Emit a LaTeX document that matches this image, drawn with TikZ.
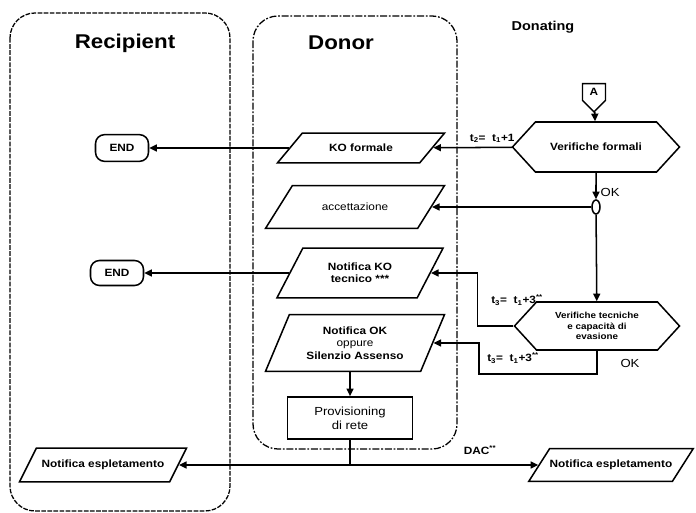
\documentclass[tikz,border=0pt]{standalone}
\usepackage{fontspec}
\setmainfont[FakeStretch=1.12]{Liberation Sans}
\usetikzlibrary{arrows.meta,positioning}
\usetikzlibrary{shapes.geometric,shapes.misc,shapes.symbols}
\tikzset{
    >={Triangle[length=6.5pt,width=6pt]}, % filled arrow heads
    lane/.style={draw, line width=1.1pt, rounded corners=0.75cm},
    title/.style={font=\fontsize{17}{19}\selectfont\bfseries},
    % parallelogram: angle of the sides, height comes from inner ysep
    io/.style={trapezium, trapezium left angle=#1, trapezium right angle=180-#1,
        trapezium stretches body,
        draw, line width=1.3pt, inner xsep=0pt, align=center,
        font=\fontsize{9}{10.5}\selectfont\bfseries},
    io/.default=60,
    hex/.style={signal, signal to=east and west, signal pointer angle=95,
        draw, line width=1.3pt, inner sep=0pt, align=center,
        font=\fontsize{9}{10.5}\selectfont\bfseries},
    offpage/.style={signal, signal to=south, signal from=nowhere, draw,
        line width=1.1pt, inner sep=0pt, minimum width=0.69cm, minimum height=0.63cm,
        font=\fontsize{9}{10}\selectfont\bfseries},
    junction/.style={ellipse, draw, line width=1.3pt, inner sep=0pt,
        minimum width=0.24cm, minimum height=0.42cm},
    terminal/.style={rectangle, rounded corners=0.27cm, draw, line width=1.3pt, inner sep=0pt,
        minimum width=1.59cm, minimum height=0.8cm,
        font=\fontsize{9}{10}\selectfont\bfseries},
    process/.style={rectangle, draw, line width=1.5pt, inner sep=0pt, align=center,
        minimum width=3.75cm, minimum height=1.26cm,
        font=\fontsize{10}{12}\selectfont},
    lbl/.style={font=\fontsize{9}{10}\selectfont\bfseries},
    every edge/.style={draw, line width=1.3pt},
}

\begin{document}
\begin{tikzpicture}[x=0.03cm, y=-0.03cm, line width=1.3pt]
  \useasboundingbox (0,0) rectangle (696,513);

  % swim lanes
  \draw[lane, dash pattern=on 4pt off 1.2pt] (10,13) rectangle (230,511);
  \draw[lane, dash pattern=on 6pt off 1.5pt on 1.5pt off 1.5pt] (253,16) rectangle (457,449);
  \node[title] (recipient) at (125,43) {Recipient};
  \node[title] (donor) at (341,43) {Donor};
  \node[font=\fontsize{11}{13}\selectfont\bfseries] (donating) at (543,27) {Donating};

  % Donating
  \node[offpage] (A) at (594,92) {A};
  \node[hex, minimum width=5.01cm, minimum height=1.5cm] (vf) at (596,147) {Verifiche formali};
  \node[junction] (ok) at (596,207) {};
  \node[hex, minimum width=4.95cm, minimum height=1.44cm,
      font=\fontsize{7.5}{9}\selectfont\bfseries] (vt) at (597,326)
      {Verifiche tecniche\\e capacità di\\evasione};

  % Donor
  \node[io=50.2, minimum width=5.01cm, inner ysep=9.4pt] (koform) at (361,148) {KO formale};
  \node[io=57.9, minimum width=5.37cm, inner ysep=15pt,
      font=\fontsize{9}{10.5}\selectfont] (acc) at (355,207) {accettazione};
  \node[io=62.5, minimum width=4.98cm, inner ysep=12.6pt] (kotec) at (360,273)
      {Notifica KO\\tecnico ***};
  \node[io=67.2, minimum width=5.37cm, inner ysep=10.4pt,
      font=\fontsize{9}{10.5}\selectfont] (nok) at (355,343)
      {\textbf{Notifica OK}\\oppure\\\textbf{Silenzio Assenso}};
  \node[process] (prov) at (350,418) {Provisioning\\di rete};

  % Recipient
  \node[terminal] (end1) at (122,148) {END};
  \node[terminal, minimum height=0.75cm] (end2) at (117,273) {END};
  \node[io=63.4, minimum width=5.01cm, inner ysep=10.2pt] (espR) at (103,465) {Notifica espletamento};
  \node[io=57.5, minimum width=4.74cm, inner ysep=9.8pt] (espD) at (611,465) {Notifica espletamento};
  \coordinate (dac) at (350,465);

  \path[->]
    (A) edge (vf)
    (vf) edge node[lbl, above, pos=.25] {t\textsubscript{2}= \ t\textsubscript{1}+1} (koform)
         edge node[right, pos=.75, font=\fontsize{10}{12}\selectfont] {OK} (ok)
    (koform) edge (end1)
    (ok) edge (acc)
         edge (vt)
    (kotec) edge (end2)
    (prov.north |- nok.south) edge (prov)
    (dac) edge (espR)
          edge (espD);
  \draw (prov) -- (dac);
  \draw[->] (vt.west) -- ++(-36,0) |- (kotec.east);
  \draw[->] (vt.south) |- ++(-118,23) |- (nok.east);

  \node[lbl] (t3a) at (517,300) {t\textsubscript{3}= \ t\textsubscript{1}+3\textsuperscript{**}};
  \node[lbl] (t3b) at (513,358) {t\textsubscript{3}= \ t\textsubscript{1}+3\textsuperscript{**}};
  \node[font=\fontsize{10}{12}\selectfont] (ok2) at (630,363) {OK};
  \node[lbl] (dacl) at (480,450) {DAC\textsuperscript{**}};
\end{tikzpicture}
\end{document}
